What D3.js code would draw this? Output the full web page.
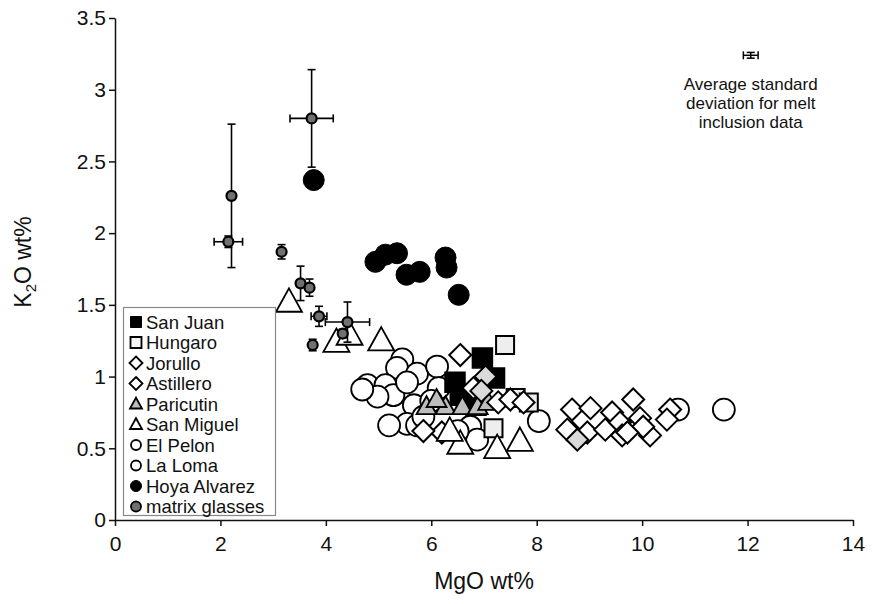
<!DOCTYPE html>
<html><head><meta charset="utf-8">
<script src="https://cdn.jsdelivr.net/npm/d3@7"></script>
<style>body{margin:0;background:#fff}svg{display:block}text{font-family:"Liberation Sans",Arial,sans-serif;fill:#111}</style>
</head><body><svg id="c" width="873" height="604"></svg>
<script>
// ---- data (MgO wt%, K2O wt%) ----
const xTicks = [0,2,4,6,8,10,12,14];
const yTicks = [0,0.5,1,1.5,2,2.5,3,3.5];
const seriesNames = ["San Juan","Hungaro","Jorullo","Astillero","Paricutin","San Miguel","El Pelon","La Loma","Hoya Alvarez","matrix glasses"];
const elPelon = [[5.45,1.12],[5.35,1.06],[5.73,1.02],[6.11,1.07],[4.79,0.94],[5.13,0.94],[5.28,0.87],[4.98,0.86],[5.54,0.96],[5.67,0.80],[6.14,0.92],[4.69,0.91]];
const laLoma = [[5.54,0.67],[5.73,0.66],[6.74,0.65],[8.04,0.69],[6.87,0.56],[10.68,0.77],[11.55,0.77],[6.0,0.83],[5.85,0.72],[6.5,0.62],[5.2,0.66]];
const sanJuan = [[6.97,1.13],[7.2,0.99],[6.45,0.96],[6.55,0.87],[6.85,0.80]];
const hungaro = [[7.4,1.22],[7.18,0.64],[7.6,0.85],[7.85,0.82]];
const paricutin = [[5.91,0.79],[6.27,0.79],[6.59,0.79],[6.88,0.79],[7.08,0.82],[6.1,0.84]];
const jorullo = [[6.55,1.15],[6.8,0.92],[7.27,0.82],[7.5,0.84],[7.75,0.82],[6.2,0.61],[5.85,0.62],
  [8.67,0.77],[9.02,0.78],[9.43,0.75],[9.83,0.84],[10.53,0.77],[8.67,0.61],[8.96,0.61],[9.30,0.63],
  [9.58,0.68],[9.62,0.59],[9.96,0.71],[10.15,0.59],[10.02,0.65],[10.47,0.70],[9.72,0.61],[8.58,0.63]];
const astillero = [[7.03,1.0],[8.77,0.56],[6.95,0.9]];
const sanMiguel = [[3.3,1.52],[4.2,1.24],[4.45,1.29],[5.05,1.25],[6.55,0.53],[7.25,0.5],[7.68,0.55],[6.35,0.62]];
const hoyaAlvarez = [[3.77,2.37],[4.94,1.80],[5.13,1.85],[5.35,1.86],[5.53,1.71],[5.78,1.73],[6.27,1.83],[6.29,1.76],[6.52,1.57]];
const matrixGlasses = [[2.21,2.26],[3.73,2.80],[2.15,1.94],[3.16,1.87],[3.52,1.65],[3.69,1.62],[3.87,1.42],[4.41,1.38],[4.32,1.30],[3.75,1.22]];
const glassMgoErr = [0.03,0.41,0.27,0.04,0.04,0.03,0.15,0.42,0.03,0.03];
const glassK2oErr = [0.50,0.34,0.04,0.05,0.12,0.06,0.07,0.14,0.03,0.04];
const avgSD = [12.06,3.24]; const avgSDErr = [0.14,0.02];
const noteLines = ["Average standard","deviation for melt","inclusion data"];

const svg = d3.select("#c");
const x = d3.scaleLinear().domain([0,14]).range([115,853]);
const y = d3.scaleLinear().domain([0,3.5]).range([520,18]);

// axes
const ax = svg.append("g").attr("transform","translate(0,520)")
  .call(d3.axisBottom(x).tickValues(xTicks).tickSize(6).tickSizeOuter(0).tickPadding(10).tickFormat(d=>String(d)));
const ay = svg.append("g").attr("transform","translate(115,0)")
  .call(d3.axisLeft(y).tickValues(yTicks).tickSize(6).tickSizeOuter(0).tickPadding(3).tickFormat(d=>String(d)));
[ax,ay].forEach(a=>{a.selectAll("path,line").attr("stroke","#111").attr("stroke-width",1.5);
  a.selectAll("text").attr("font-size",21).attr("font-family","Liberation Sans, Arial, sans-serif").attr("fill","#111");});

svg.append("text").attr("x",484).attr("y",589).attr("text-anchor","middle").attr("font-size",23).text("MgO wt%");
const yl = svg.append("text").attr("transform","translate(31,262) rotate(-90)").attr("text-anchor","middle").attr("font-size",23);
yl.append("tspan").text("K");
yl.append("tspan").attr("font-size",15).attr("dy",5).text("2");
yl.append("tspan").attr("dy",-5).text("O wt%");

// symbol paths
function shape(type, s){
  if(type==="square") return `M${-s},${-s}H${s}V${s}H${-s}Z`;
  if(type==="diamond") return `M0,${-s}L${s},0L0,${s}L${-s},0Z`;
  if(type==="triangle") return `M0,${-s*1.05}L${s},${s*0.75}L${-s},${s*0.75}Z`;
  const p=d3.path(); p.arc(0,0,s,0,2*Math.PI); return p.toString();
}
const styles = {
  "San Juan":{type:"square",s:10,fill:"#000",sw:1.5,lg:5.5},
  "Hungaro":{type:"square",s:9,fill:"#eee",sw:2,lg:5.5},
  "Jorullo":{type:"diamond",s:11,fill:"#fff",sw:2,lg:6.5},
  "Astillero":{type:"diamond",s:11,fill:"#dadada",sw:2,lg:6.5},
  "Paricutin":{type:"triangle",s:10,fill:"#bdbdbd",sw:1.8,lg:6},
  "San Miguel":{type:"triangle",s:13,fill:"#fff",sw:1.8,lg:6},
  "El Pelon":{type:"circle",s:11,fill:"#fff",sw:1.8,lg:5},
  "La Loma":{type:"circle",s:11,fill:"#fff",sw:1.8,lg:5},
  "Hoya Alvarez":{type:"circle",s:10.5,fill:"#000",sw:1,lg:5.5},
  "matrix glasses":{type:"circle",s:5,fill:"#707070",sw:2.2,lg:5}
};
function drawSeries(name,data){
  const st = styles[name];
  svg.append("g").selectAll("path").data(data).join("path")
    .attr("d",shape(st.type,st.s))
    .attr("transform",d=>`translate(${x(d[0])},${y(d[1])})`)
    .attr("fill",st.fill).attr("stroke","#000").attr("stroke-width",st.sw);
}
drawSeries("El Pelon",elPelon);
drawSeries("La Loma",laLoma);
drawSeries("San Juan",sanJuan);
drawSeries("Hungaro",hungaro);
drawSeries("Paricutin",paricutin);
drawSeries("Jorullo",jorullo);
drawSeries("Astillero",astillero);
drawSeries("San Miguel",sanMiguel);
drawSeries("Hoya Alvarez",hoyaAlvarez);

// error bars
function errBar(g,cx,cy,ex,ey){
  const x0=x(cx-ex),x1=x(cx+ex),y0=y(cy-ey),y1=y(cy+ey),px=x(cx),py=y(cy);
  g.append("line").attr("x1",x0).attr("x2",x1).attr("y1",py).attr("y2",py);
  g.append("line").attr("x1",x0).attr("x2",x0).attr("y1",py-4).attr("y2",py+4);
  g.append("line").attr("x1",x1).attr("x2",x1).attr("y1",py-4).attr("y2",py+4);
  g.append("line").attr("x1",px).attr("x2",px).attr("y1",y0).attr("y2",y1);
  g.append("line").attr("x1",px-4).attr("x2",px+4).attr("y1",y0).attr("y2",y0);
  g.append("line").attr("x1",px-4).attr("x2",px+4).attr("y1",y1).attr("y2",y1);
}
const eg = svg.append("g").attr("stroke","#000").attr("stroke-width",1.6);
matrixGlasses.forEach((d,i)=>errBar(eg,d[0],d[1],glassMgoErr[i],glassK2oErr[i]));
drawSeries("matrix glasses",matrixGlasses);

// average SD marker + note
const ag = svg.append("g").attr("stroke","#000").attr("stroke-width",1.5);
errBar(ag,avgSD[0],avgSD[1],avgSDErr[0],avgSDErr[1]);
noteLines.forEach((t,i)=>svg.append("text").attr("x",x(avgSD[0])).attr("y",y(avgSD[1])+35+i*19)
  .attr("text-anchor","middle").attr("font-size",17).text(t));

// legend
const lg = svg.append("g");
lg.append("rect").attr("x",123.5).attr("y",307.5).attr("width",152).attr("height",208)
  .attr("fill","#fff").attr("stroke","#888").attr("stroke-width",1.2);
const openSet = ["Jorullo","Astillero","San Miguel","El Pelon","La Loma"];
seriesNames.forEach((n,i)=>{
  const st=styles[n], cy=322+i*20.5;
  lg.append("path").attr("d",shape(st.type,st.lg)).attr("transform",`translate(136,${cy})`)
    .attr("fill",n==="Hungaro"?"#f4f4f4":(openSet.includes(n)?"#fff":st.fill))
    .attr("stroke","#000").attr("stroke-width",n==="San Juan"||n==="Hoya Alvarez"?1:1.8);
  lg.append("text").attr("x",146).attr("y",cy+6.5).attr("font-size",18.5).text(n);
});
</script></body></html>
